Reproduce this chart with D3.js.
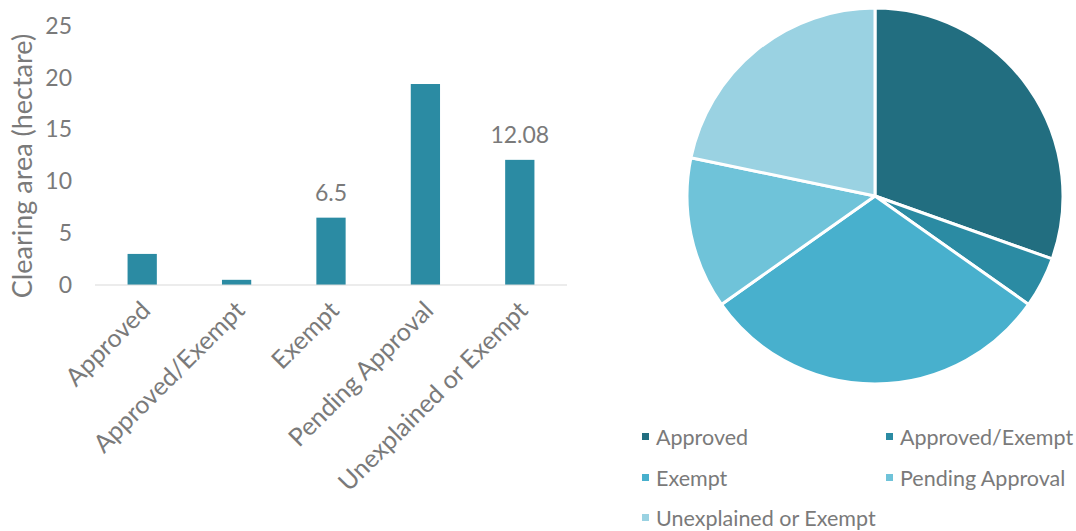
<!DOCTYPE html>
<html>
<head>
<meta charset="utf-8">
<script src="https://cdn.jsdelivr.net/npm/d3@7"></script>
<style>
  html, body { margin: 0; padding: 0; background: #fff; }
  svg { display: block; font-family: Lato, "Open Sans", sans-serif; }
</style>
</head>
<body>
<svg id="chart" width="1076" height="531"></svg>
<script>
// Clearing area by approval status (bar) and number of cases by status (pie)
const categories = ["Approved", "Approved/Exempt", "Exempt", "Pending Approval", "Unexplained or Exempt"];
const areaHectare = [3.0, 0.5, 6.5, 19.4, 12.08];
const caseCounts = [14, 2, 14, 6, 10];
const yTicks = [0, 5, 10, 15, 20, 25];
const labelledBars = ["Exempt", "Unexplained or Exempt"];
const sliceColors = ["#226e80", "#2b8ba3", "#48b0cd", "#6fc3d9", "#9ad2e2"];

const textColor = "#7a7a7a";
const svg = d3.select("#chart");

// ---- Bar chart ----
const plot = { left: 95, right: 567, top: 26, bottom: 285 };
const x = d3.scaleBand().domain(categories).range([plot.left, plot.right]).paddingInner(0.69).paddingOuter(0.345);
const y = d3.scaleLinear().domain([0, 25]).range([plot.bottom, plot.top]);

const bars = svg.append("g");
bars.selectAll("rect")
  .data(categories)
  .join("rect")
  .attr("x", d => x(d))
  .attr("y", (d, i) => y(areaHectare[i]))
  .attr("width", x.bandwidth())
  .attr("height", (d, i) => y(0) - y(areaHectare[i]))
  .attr("fill", "#2b8ba3");

// baseline
svg.append("line")
  .attr("x1", plot.left).attr("x2", plot.right)
  .attr("y1", y(0)).attr("y2", y(0))
  .attr("stroke", "#d9d9d9").attr("stroke-width", 1);

// y axis ticks (no domain line)
const yAxis = svg.append("g")
  .attr("transform", `translate(${plot.left - 23},0)`)
  .call(d3.axisLeft(y).tickValues(yTicks).tickSize(0).tickPadding(0));
yAxis.select(".domain").remove();
yAxis.selectAll("text")
  .attr("fill", textColor)
  .style("font-size", "23px")
  .style("font-family", "Lato, sans-serif");

// y axis title
svg.append("text")
  .attr("transform", `translate(32,166) rotate(-90)`)
  .attr("text-anchor", "middle")
  .attr("fill", textColor)
  .style("font-size", "27px")
  .text("Clearing area (hectare)");

// category labels, rotated
const xAxis = svg.append("g")
  .attr("transform", `translate(0,${plot.bottom})`)
  .call(d3.axisBottom(x).tickSize(0).tickPadding(0));
xAxis.select(".domain").remove();
xAxis.selectAll("text")
  .attr("fill", textColor)
  .style("font-size", "25px")
  .style("font-family", "Lato, sans-serif")
  .attr("text-anchor", "end")
  .attr("dy", "0")
  .attr("transform", `translate(${x.bandwidth() / 2 - 5},${27}) rotate(-45)`);

// value labels
svg.append("g").selectAll("text")
  .data(categories.filter(c => labelledBars.includes(c)))
  .join("text")
  .attr("x", d => x(d) + x.bandwidth() / 2)
  .attr("y", d => y(areaHectare[categories.indexOf(d)]) - 17)
  .attr("text-anchor", "middle")
  .attr("fill", textColor)
  .style("font-size", "23px")
  .text(d => String(areaHectare[categories.indexOf(d)]));

// ---- Pie chart ----
const pieCenter = { x: 875, y: 196 };
const radius = 188;
const pie = d3.pie().sort(null).value(d => d.v);
const arc = d3.arc().innerRadius(0).outerRadius(radius);
const color = d3.scaleOrdinal().domain(categories).range(sliceColors);

svg.append("g")
  .attr("transform", `translate(${pieCenter.x},${pieCenter.y})`)
  .selectAll("path")
  .data(pie(categories.map((c, i) => ({ c, v: caseCounts[i] }))))
  .join("path")
  .attr("d", arc)
  .attr("fill", d => color(d.data.c))
  .attr("stroke", "#fff")
  .attr("stroke-width", 3)
  .attr("stroke-linejoin", "round");

// legend
const legendCols = [642, 886];
const legendRows = [437, 478, 518];
const legend = svg.append("g").selectAll("g")
  .data(categories)
  .join("g")
  .attr("transform", (d, i) => `translate(${legendCols[i % 2]},${legendRows[Math.floor(i / 2)]})`);
legend.append("rect")
  .attr("x", 0).attr("y", -4)
  .attr("width", 7).attr("height", 7)
  .attr("fill", d => color(d));
legend.append("text")
  .attr("x", 14).attr("y", 0)
  .attr("dy", "0.35em")
  .attr("fill", textColor)
  .style("font-size", "21.5px")
  .text(d => d);
</script>
</body>
</html>
